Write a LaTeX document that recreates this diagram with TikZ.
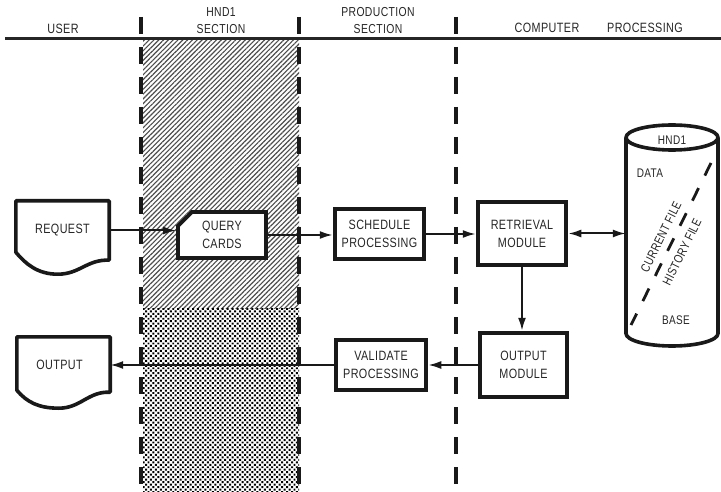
\documentclass[tikz,border=0pt]{standalone}
\usepackage{fontspec}
\setmainfont{Liberation Sans}[FakeStretch=0.8, LetterSpace=3]
\usetikzlibrary{arrows.meta,patterns.meta,shapes.misc,calc}

\begin{document}
\begin{tikzpicture}[x=1pt,y=-1pt,
  lbl/.style={font=\fontsize{13.5}{18}\selectfont, text=black!85, align=center, inner sep=0pt},
  smalllbl/.style={lbl, font=\fontsize{12.5}{15}\selectfont},
  procbox/.style={lbl, draw=black!90, line width=4.5pt, fill=white},
  cardbox/.style={lbl, draw=black!90, line width=3.8pt, fill=white, chamfered rectangle,
    chamfered rectangle corners=north west, chamfered rectangle xsep=7pt, chamfered rectangle ysep=7pt},
  docline/.style={draw=black!90, line width=3.6pt, fill=white, line join=round},
  conn/.style={draw=black!90, line width=2pt, -{Latex[length=13pt,width=8pt]}},
  divider/.style={draw=black!90, line width=3.5pt, dash pattern=on 17pt off 13pt},
  headline/.style={draw=black!85, line width=3pt}]

\useasboundingbox (0,0) rectangle (721,492);

% shaded band of the HND1 section
\fill[pattern={Lines[angle=45,distance=3.4pt,line width=1.15pt]}, pattern color=black!70]
  (143,41) rectangle (299,308);
\fill[pattern={Dots[angle=45,distance=3.5pt,radius=1.4pt]}, pattern color=black]
  (143,308) rectangle (299,492);

% header rule and column titles
\draw[headline] (5,39) -- (721,39);
\node[lbl] (huser) at (63,29) {USER};
\node[lbl, font=\fontsize{13}{17}\selectfont] (hhnd) at (221,21) {HND1\\SECTION};
\node[lbl, font=\fontsize{13}{17}\selectfont] (hprod) at (378,21) {PRODUCTION\\SECTION};
\node[lbl] (hcomp) at (547,28) {COMPUTER};
\node[lbl] (hproc) at (645,28) {PROCESSING};

% column dividers
\draw[divider] (141,17) -- (141,492);
\draw[divider] (299,17) -- (299,492);
\draw[divider] (456,17) -- (456,492);

% document shapes: the nodes carry the text, the outline is drawn round them
\node[lbl, minimum width=93pt, minimum height=59pt] (req) at (62.5,230.5) {};
\node[lbl, minimum width=93pt, minimum height=55pt] (out) at (63.5,364.5) {};
\draw[docline] (req.north west) -- (req.north east) -- (req.south east)
  .. controls +(-22,-1) and +(22,0) .. ($(req.south west)+(42,14)$)
  .. controls +(-20,0) and +(10,12) .. ($(req.south west)+(0,-8)$) -- cycle;
\node[lbl] (reqtext) at (req) {REQUEST};
\draw[docline] (out.north west) -- (out.north east) -- (out.south east)
  .. controls +(-22,-1) and +(22,0) .. ($(out.south west)+(42,16)$)
  .. controls +(-20,0) and +(10,12) .. ($(out.south west)+(0,-2)$) -- cycle;
\node[lbl] (outtext) at ($(out)+(-4,0)$) {OUTPUT};

% process boxes
\node[cardbox, minimum width=88pt, minimum height=46pt] (query) at (222,235) {QUERY\\CARDS};
\node[procbox, minimum width=89pt, minimum height=50pt] (sched) at (379.5,234) {SCHEDULE\\PROCESSING};
\node[procbox, minimum width=88pt, minimum height=63pt] (retr) at (522,233.5) {RETRIEVAL\\MODULE};
\node[procbox, minimum width=87pt, minimum height=64pt] (outmod) at (523.5,365) {OUTPUT\\MODULE};
\node[procbox, minimum width=90pt, minimum height=50pt] (val) at (381,365) {VALIDATE\\PROCESSING};

% data base cylinder
\node[minimum width=92pt, minimum height=221pt, inner sep=0pt] (db) at (672,235.5) {};
\draw[docline] (626,137.5) -- (626,333.5)
  arc[start angle=180, end angle=360, x radius=46pt, y radius=12.5pt] -- (718,137.5);
\draw[docline] (672,137.5) ellipse [x radius=46pt, y radius=12.5pt];
\node[smalllbl] (dbhnd) at (672,140) {HND1};
\node[smalllbl] (dbdata) at (650,173) {DATA};
\node[smalllbl] (dbbase) at (676,320) {BASE};
\draw[draw=black!90, line width=2.8pt, dash pattern=on 14pt off 14pt] (711,163) -- (631,325);
\node[smalllbl, rotate=63.7] (curfile) at (661,237) {CURRENT FILE};
\node[smalllbl, rotate=63.7] (hisfile) at (682,252) {HISTORY FILE};

% flow connectors
\draw[conn] (req.east) -- (req.east -| query.west);
\draw[conn] (query.east) -- (query.east -| sched.west);
\draw[conn] (sched.east) -- (sched.east -| retr.west);
\draw[conn, {Latex[length=13pt,width=8pt]}-{Latex[length=13pt,width=8pt]}] (retr.east) -- (retr.east -| db.west);
\draw[conn] (retr.south) -- (retr.south |- outmod.north);
\draw[conn] (outmod.west) -- (outmod.west -| val.east);
\draw[conn] (val.west) -- (val.west -| out.east);
\end{tikzpicture}
\end{document}
